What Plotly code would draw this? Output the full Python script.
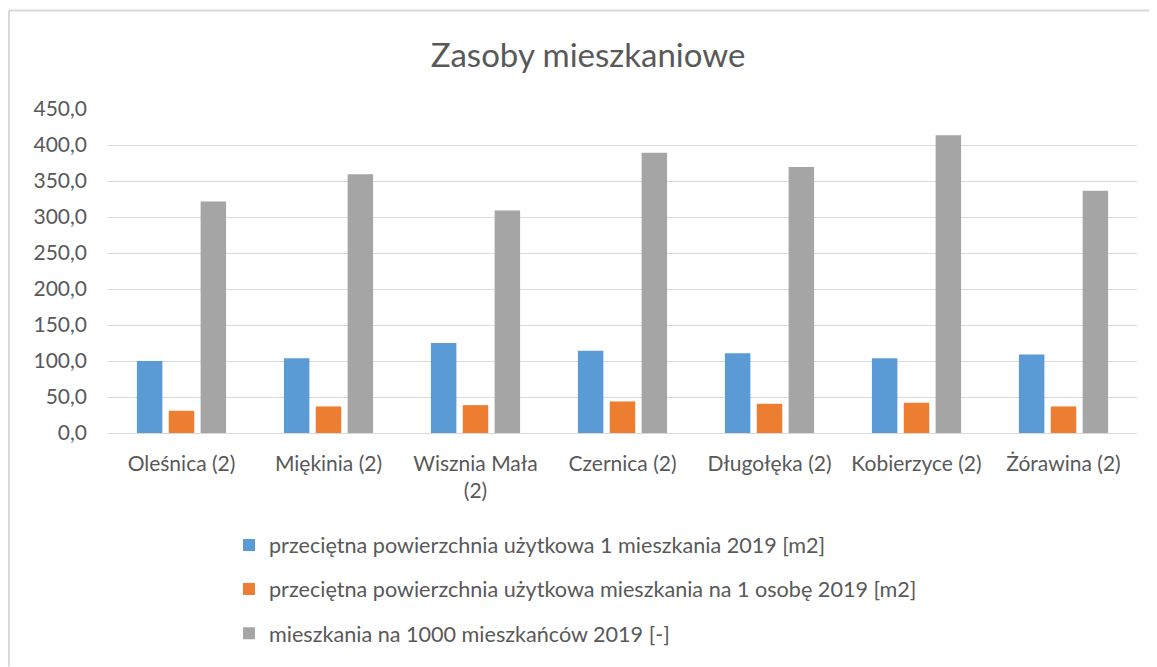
import plotly.graph_objects as go

categories = ["Oleśnica (2)", "Miękinia (2)", "Wisznia Mała<br>(2)", "Czernica (2)",
              "Długołęka (2)", "Kobierzyce (2)", "Żórawina (2)"]
series_names = [
    "przeciętna powierzchnia użytkowa 1 mieszkania 2019 [m2]",
    "przeciętna powierzchnia użytkowa mieszkania na 1 osobę 2019 [m2]",
    "mieszkania na 1000 mieszkańców 2019 [-]",
]
avg_area = [100.1, 103.8, 125.0, 114.4, 110.7, 103.8, 108.9]
area_per_person = [30.9, 36.9, 38.7, 43.8, 40.6, 42.0, 36.9]
flats_per_1000 = [321.5, 359.3, 309.0, 389.3, 369.5, 413.7, 336.3]
y_ticks = [0, 50, 100, 150, 200, 250, 300, 350, 400, 450]
y_tick_labels = ["0,0", "50,0", "100,0", "150,0", "200,0", "250,0", "300,0", "350,0", "400,0", "450,0"]

colors = ["#5b9bd5", "#ed7d31", "#a5a5a5"]
FONT = "Lato, Open Sans, sans-serif"
TXT = "#595959"

fig = go.Figure()
for i, (name, vals, c) in enumerate(zip(series_names, [avg_area, area_per_person, flats_per_1000], colors)):
    fig.add_trace(go.Bar(x=categories, y=vals, name=name, marker_color=c,
                         marker_line_width=0, legendgroup=f"g{i}"))

# page has an 8px body margin; figure is sized/offset to compensate
OFF = 8
W, H = 1157 - OFF, 667 - OFF
ml, mt = 108 - OFF, 109 - OFF
mr = W - (1137 - OFF)
mb = H - (435 - OFF)
pw = W - ml - mr
ph = H - mt - mb

def px_x(x):
    return (x - OFF - ml) / pw

def px_y(y):
    return (H - mb - (y - OFF)) / ph

fig.update_layout(
    width=W, height=H,
    margin=dict(l=ml, r=mr, t=mt, b=mb),
    paper_bgcolor="white", plot_bgcolor="white",
    barmode="group", bargap=0.35, bargroupgap=0.2,
    title=dict(text="Zasoby mieszkaniowe", x=px_x(588), xanchor="center", xref="paper",
               y=1 - (55 - OFF) / H, yanchor="middle",
               font=dict(family=FONT, size=33, color=TXT)),
    font=dict(family=FONT, color=TXT),
    xaxis=dict(showgrid=False, showline=False, ticks="",
               tickfont=dict(size=21, color=TXT), ticklabelstandoff=16,
               automargin=False),
    yaxis=dict(range=[0, 450], tickvals=y_ticks, ticktext=y_tick_labels,
               gridcolor="#d9d9d9", gridwidth=1, zeroline=True,
               zerolinecolor="#d9d9d9", zerolinewidth=1,
               tickfont=dict(size=21, color=TXT), ticklabelstandoff=20,
               automargin=False),
    legend=dict(orientation="v", x=px_x(229), xanchor="left",
                y=px_y(527), yanchor="top",
                font=dict(size=21.6, color=TXT, family=FONT),
                itemwidth=30, tracegroupgap=13, traceorder="grouped",
                bgcolor="rgba(0,0,0,0)"),
    showlegend=True,
)

# chart frame (top and left edges visible in the cropped reference)
fig.add_shape(type="line", xref="paper", yref="paper",
              x0=px_x(9), x1=px_x(1160), y0=px_y(10), y1=px_y(10),
              line=dict(color="#d9d9d9", width=2))
fig.add_shape(type="line", xref="paper", yref="paper",
              x0=px_x(9), x1=px_x(9), y0=px_y(10), y1=px_y(670),
              line=dict(color="#d9d9d9", width=2))

fig.write_html("out.html")
